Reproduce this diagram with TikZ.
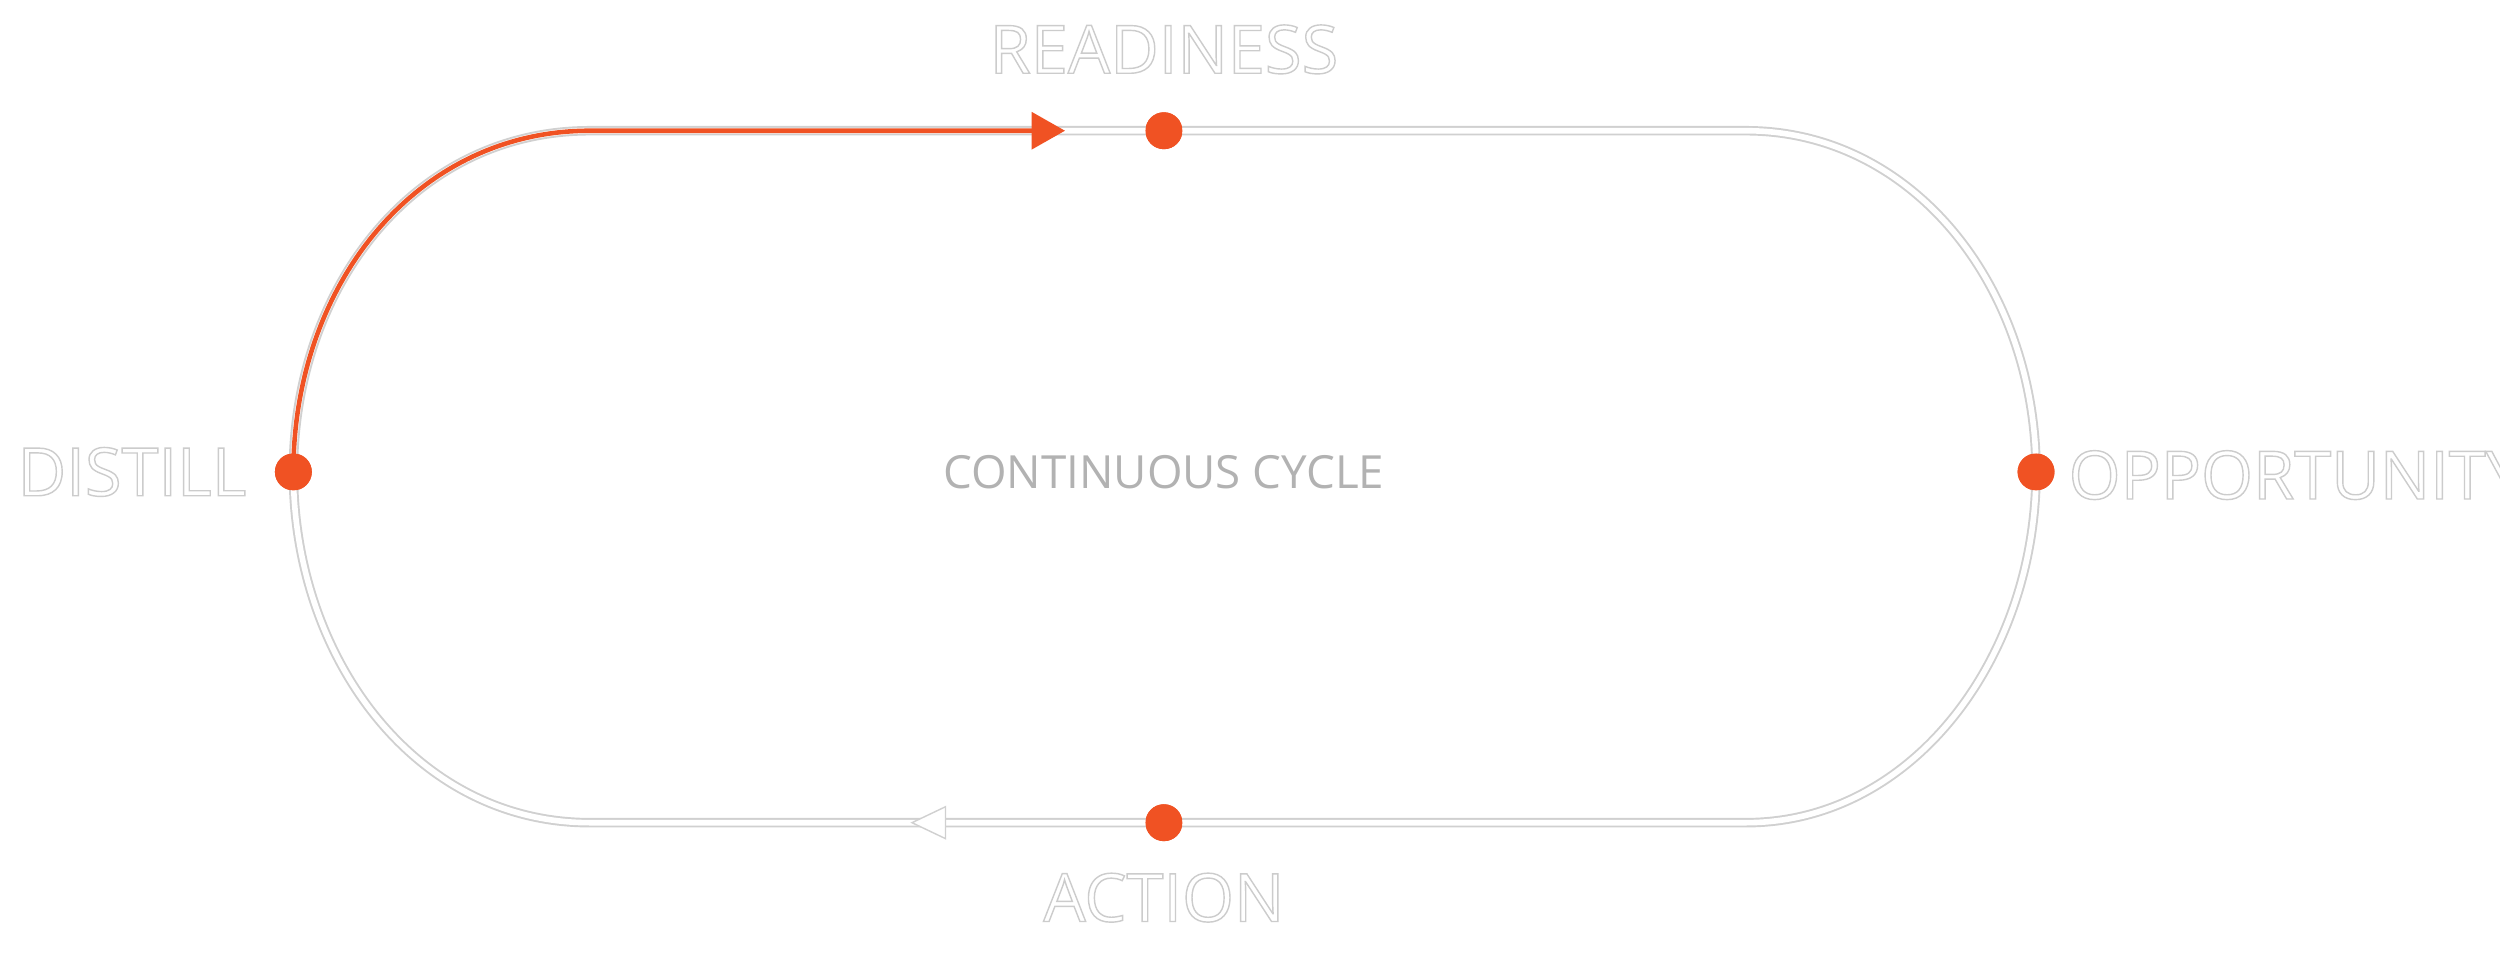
\documentclass[tikz,border=0pt]{standalone}
\usepackage{fontspec}
\setmainfont{Open Sans}
\usetikzlibrary{arrows.meta}
\definecolor{org}{HTML}{F05223}
\definecolor{edge}{HTML}{D0D0D0}
\begin{document}
\begin{tikzpicture}[x=0.01594cm,y=-0.01594cm,
  dot/.style={circle,fill=org,inner sep=0pt,minimum size=10.5pt},
  lbl/.style={text=white,font=\fontsize{19}{22}\selectfont,inner sep=0pt},
  track/.style={draw=edge,line width=2.7pt},
  inner/.style={draw=white,line width=1.6pt}]
\useasboundingbox (0,0) rectangle (1568,609);
\fill[white] (0,0) rectangle (1568,609);
\coordinate (tl) at (370,82); \coordinate (tr) at (1095,82);
\coordinate (bl) at (370,516); \coordinate (br) at (1095,516);
\node[dot] (r) at (730,82) {};
\node[dot] (a) at (730,516) {};
\node[dot] (d) at (184,296) {};
\node[dot] (o) at (1277,296) {};
\def\loop{(tl) -- (tr) .. controls (1200,82) and (1277,180) .. (o.center) .. controls (1277,412) and (1200,516) .. (br) -- (bl) .. controls (260,516) and (184,412) .. (d.center) .. controls (184,180) and (260,82) .. (tl)}
\draw[track] \loop;
\draw[inner] \loop;
\coordinate (ah) at (668,82);
\draw[org,line width=1.3pt,-{Triangle[length=9.5pt,width=10.4pt]}] (d.center) .. controls (184,180) and (260,82) .. (tl) -- (ah);
\draw[edge,line width=0.4pt,fill=white] (593,506) -- (572,516) -- (593,526) -- cycle;
\node[dot] at (r) {}; \node[dot] at (a) {}; \node[dot] at (d) {}; \node[dot] at (o) {};
\begin{scope}[every node/.style={lbl}]
\node (lr) at (730,31) {\special{pdf:literal 2 Tr 0.4 w 0.8 0.8 0.8 RG}READINESS\special{pdf:literal 0 Tr}};
\node (la) at (730,563) {\special{pdf:literal 2 Tr 0.4 w 0.8 0.8 0.8 RG}ACTION\special{pdf:literal 0 Tr}};
\node[anchor=east] (ld) at (155,296) {\special{pdf:literal 2 Tr 0.4 w 0.8 0.8 0.8 RG}DISTILL\special{pdf:literal 0 Tr}};
\node[anchor=west] (lo) at (1297,298) {\special{pdf:literal 2 Tr 0.4 w 0.8 0.8 0.8 RG}OPPORTUNITY\special{pdf:literal 0 Tr}};
\end{scope}
\node[text=black!30,font=\fontsize{13}{15}\selectfont,inner sep=0pt] (c) at (730,296) {CONTINUOUS CYCLE};
\end{tikzpicture}
\end{document}
